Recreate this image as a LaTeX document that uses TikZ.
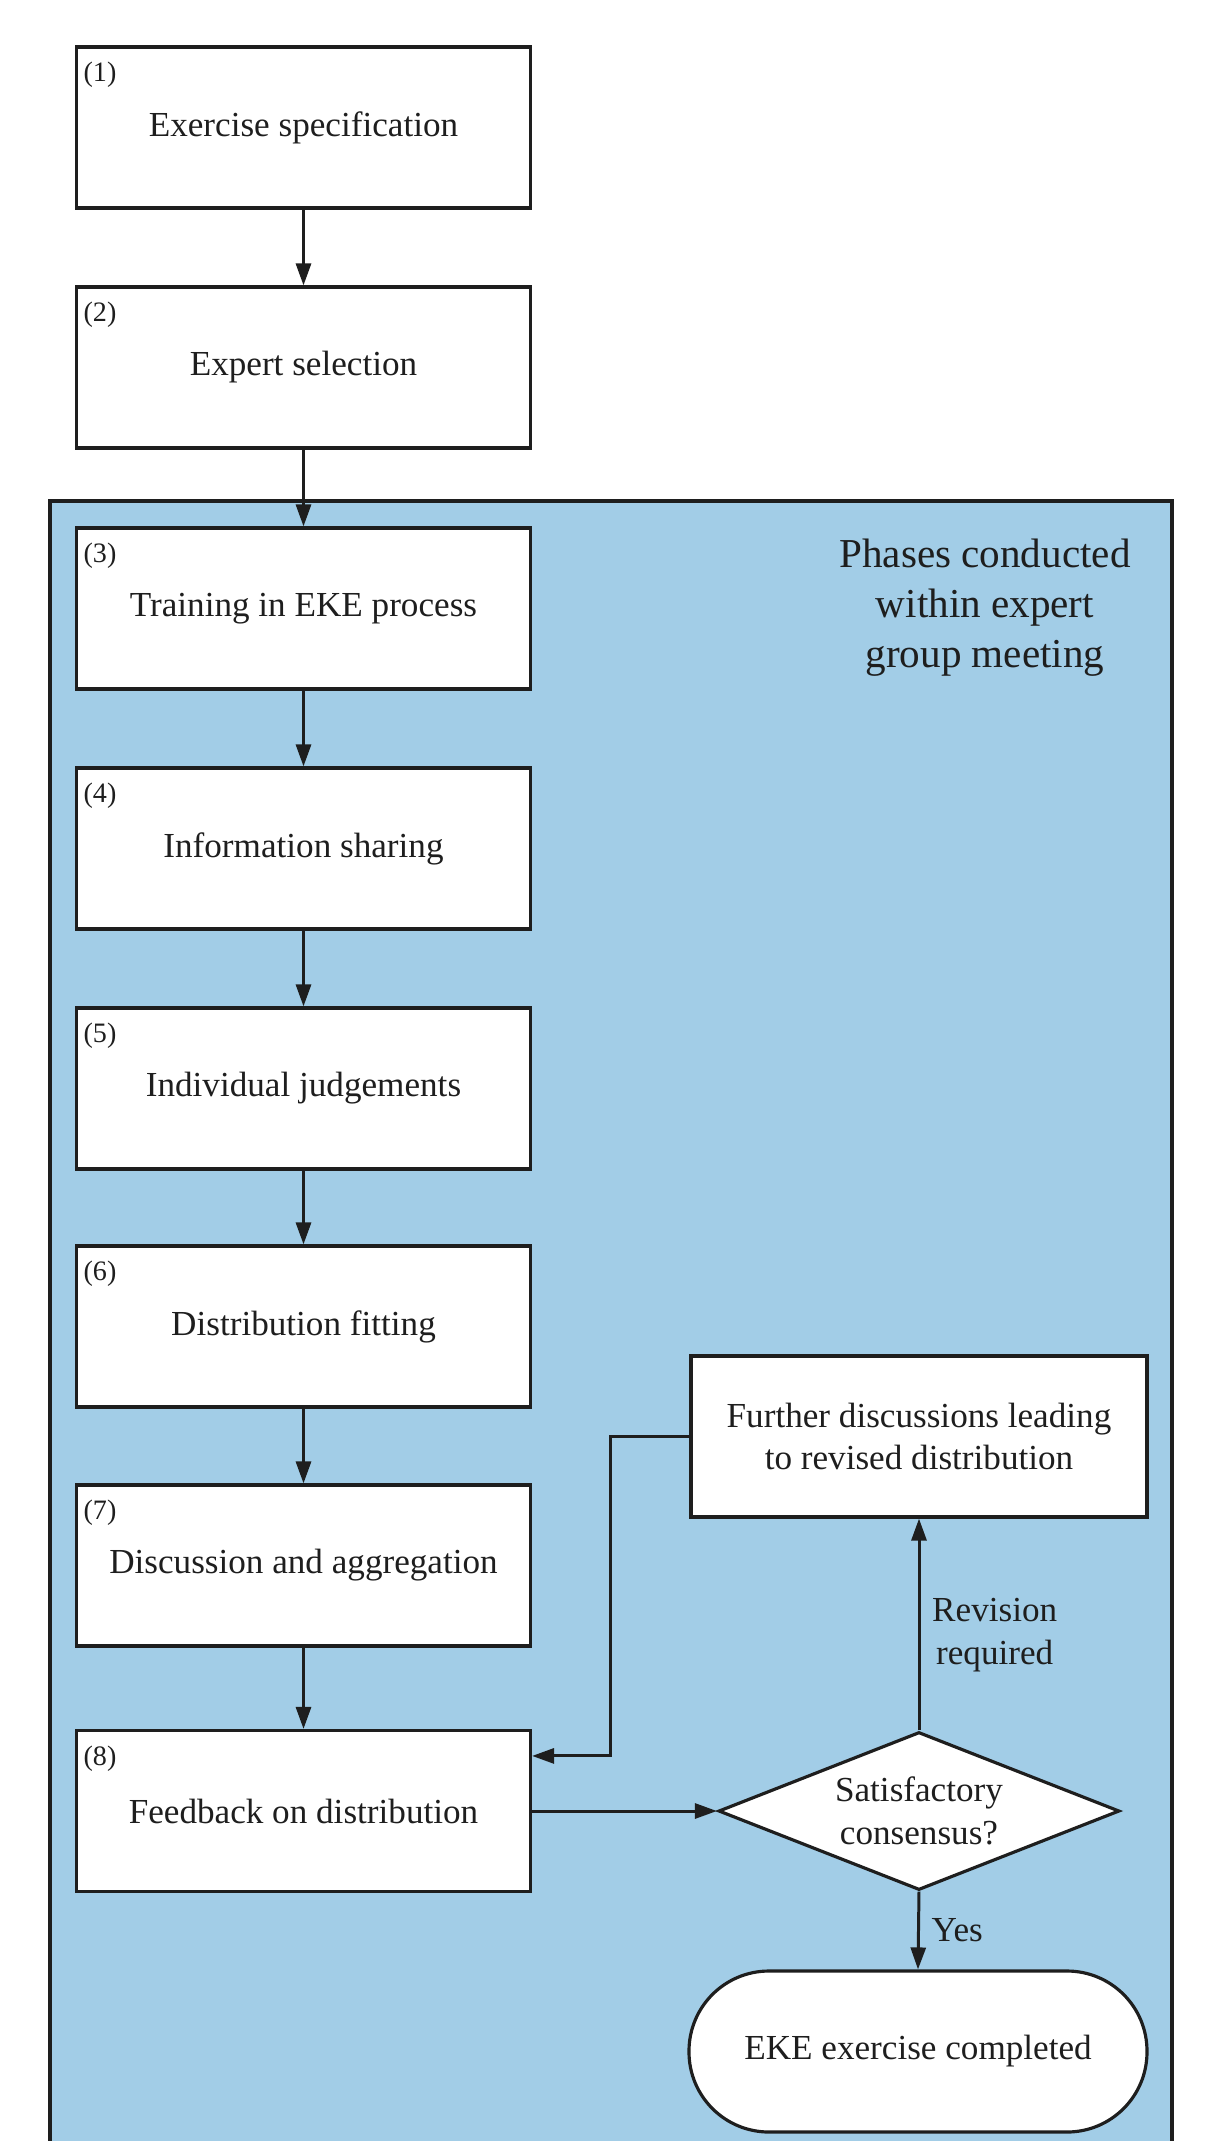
\documentclass[tikz,border=0pt]{standalone}
\usepackage{fontspec}
\setmainfont{Liberation Serif}
\usepackage{tikz}
\usetikzlibrary{arrows.meta,positioning,calc,shapes.geometric}
\definecolor{ekeblue}{RGB}{162,205,231}
\definecolor{ekeink}{RGB}{30,30,30}

\begin{document}
\begin{tikzpicture}[
  phase/.style={rectangle,draw=ekeink,line width=0.9pt,fill=white,text=ekeink,minimum width=4.54cm,minimum height=1.61cm,inner sep=0pt,align=center,font=\fontsize{10}{12.2}\selectfont},
  num/.style={anchor=north west,inner sep=0pt,text=ekeink,font=\fontsize{8}{9.6}\selectfont},
  dec/.style={diamond,aspect=2.54,draw=ekeink,line width=0.9pt,fill=white,text=ekeink,minimum width=4.01cm,minimum height=1.58cm,inner sep=0pt,align=center,font=\fontsize{10}{12.2}\selectfont},
  term/.style={rectangle,rounded corners=0.8cm,draw=ekeink,line width=0.9pt,fill=white,text=ekeink,minimum width=4.58cm,minimum height=1.61cm,inner sep=0pt,font=\fontsize{10}{12.2}\selectfont},
  lab/.style={text=ekeink,align=center,font=\fontsize{10}{12.2}\selectfont},
  flow/.style={-{Triangle[length=2.2mm,width=1.5mm]},line width=0.85pt,draw=ekeink}]
\useasboundingbox (0,0) rectangle (12.07,-21.41);
\fill[white] (0,0) rectangle (12.07,-21.41);
% expert group meeting area, open at the bottom
\draw[fill=ekeblue,line width=1.1pt,draw=ekeink] (0.50,-21.9) -- (0.50,-5.01) -- (11.72,-5.01) -- (11.72,-21.9);
\node[font=\fontsize{11.7}{14.2}\selectfont,align=center,text=ekeink] (ph) at (9.85,-6.075) {Phases conducted\\within expert\\group meeting};
% main steps
\node[phase] (s1) at (3.035,-1.275) {Exercise specification};
\node[phase] (s2) at (3.035,-3.675) {Expert selection};
\node[phase] (s3) at (3.035,-6.085) {Training in EKE process};
\node[phase] (s4) at (3.035,-8.485) {Information sharing};
\node[phase] (s5) at (3.035,-10.885) {Individual judgements};
\node[phase] (s6) at (3.035,-13.265) {Distribution fitting};
\node[phase] (s7) at (3.035,-15.655) {Discussion and aggregation};
\node[phase] (s8) at (3.035,-18.11) {Feedback on distribution};
\foreach \i in {1,...,8} \node[num] (n\i) at ([shift={(0.08,-0.16)}]s\i.north west) {(\i)};
\foreach \u/\v in {s1/s2,s2/s3,s3/s4,s4/s5,s5/s6,s6/s7,s7/s8} \draw[flow] (\u) -- (\v);
% review loop
\node[phase,minimum width=4.56cm] (fur) at (9.19,-14.365) {Further discussions leading\\to revised distribution};
\node[dec] (sat) at (9.19,-18.11) {Satisfactory\\consensus?};
\node[term] (done) at (9.18,-20.515) {EKE exercise completed};
\draw[flow] (s8.east) -- (sat.west);
\draw[flow] (sat.north) -- node[lab,right,pos=0.45] {Revision\\required} (fur.south);
\draw[flow] (sat.south) -- node[lab,right] {Yes} (done.north);
\draw[flow] (fur.west) -- ++(-0.79,0) |- ([yshift=-2.7mm]s8.north east);
\end{tikzpicture}
\end{document}
